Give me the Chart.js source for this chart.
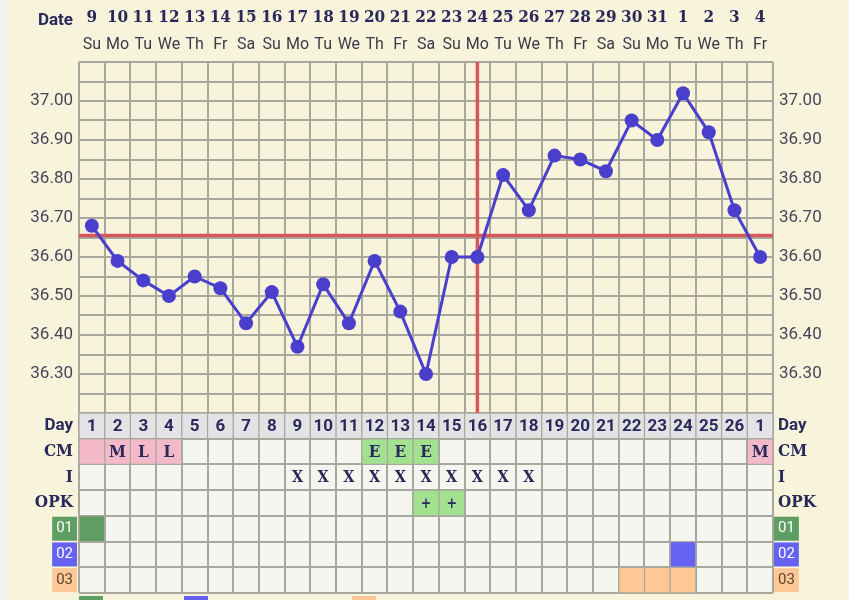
<!DOCTYPE html>
<html>
<head>
<meta charset="utf-8">
<script src="https://cdn.jsdelivr.net/npm/chart.js@4.4.0/dist/chart.umd.min.js"></script>
<style>
  html, body { margin: 0; padding: 0; background: #f8f4dc; }
  #wrap { width: 849px; height: 600px; position: relative; overflow: hidden; }
</style>
</head>
<body>
<div id="wrap"><canvas id="chart"></canvas></div>
<script>
// cycle data, one entry per column
const cycleDays = [1, 2, 3, 4, 5, 6, 7, 8, 9, 10, 11, 12, 13, 14, 15, 16, 17, 18, 19, 20, 21, 22, 23, 24, 25, 26, 1]
const dates = [9, 10, 11, 12, 13, 14, 15, 16, 17, 18, 19, 20, 21, 22, 23, 24, 25, 26, 27, 28, 29, 30, 31, 1, 2, 3, 4]
const weekdays = ['Su', 'Mo', 'Tu', 'We', 'Th', 'Fr', 'Sa', 'Su', 'Mo', 'Tu', 'We', 'Th', 'Fr', 'Sa',
  'Su', 'Mo', 'Tu', 'We', 'Th', 'Fr', 'Sa', 'Su', 'Mo', 'Tu', 'We', 'Th', 'Fr']
const temps = [36.68, 36.59, 36.54, 36.50, 36.55, 36.52, 36.43, 36.51, 36.37, 36.53, 36.43, 36.59, 36.46, 36.30,
  36.60, 36.60, 36.81, 36.72, 36.86, 36.85, 36.82, 36.95, 36.90, 37.02, 36.92, 36.72, 36.60]
const coverline = 36.655
const ovulationDay = 16

const rowNames = ['Day', 'CM', 'I', 'OPK', '01', '02', '03']
const cmCodes = ['', 'M', 'L', 'L', '', '', '', '', '', '', '', 'E', 'E', 'E', '', '', '', '', '', '', '', '', '', '', '', '', 'M']
const periodDays = [1, 2, 3, 4, 27]
const intercourseDays = [9, 10, 11, 12, 13, 14, 15, 16, 17, 18]
const opkPositiveDays = [14, 15]
const tag01Days = [1]
const tag02Days = [24]
const tag03Days = [22, 23, 24]

const ink = '#29295a'
const gridColor = '#a9a89e'
const cream = '#f8f4dc'
const red = '#d9565b'
const purple = '#4a3fcc'
const pink = '#f4b9c9'
const lightGreen = '#a2e18f'
const tagColors = ['#5f9e63', '#6561f2', '#fdc895']
const slab = '"DejaVu Serif Condensed", "DejaVu Serif", serif'

const cols = cycleDays.map((d, i) => i + 1)

const cellBars = (row, days, color) => ({
  type: 'bar',
  indexAxis: 'y',
  xAxisID: 'x',
  yAxisID: 'rows',
  data: days.map(d => ({ x: [d - 0.5, d + 0.5], y: row })),
  backgroundColor: color,
  borderColor: gridColor,
  borderWidth: 1,
  borderSkipped: false,
  grouped: false,
  barPercentage: 1,
  categoryPercentage: 1,
  order: 5
})

const cmGreenDays = cols.filter(d => cmCodes[d - 1] === 'E')

const pageBackground = {
  id: 'pageBackground',
  beforeDraw(chart) {
    const { ctx, scales: { x, rows } } = chart
    ctx.save()
    ctx.fillStyle = cream
    ctx.fillRect(0, 0, chart.width, chart.height)
    ctx.fillStyle = '#f1f1ee'
    ctx.fillRect(0, 0, 8, chart.height)
    ctx.fillStyle = '#f6f6f1'
    ctx.fillRect(x.left, rows.top, x.right - x.left, rows.bottom - rows.top)
    ctx.restore()
  }
}

const tableText = {
  id: 'tableText',
  afterDatasetsDraw(chart) {
    const { ctx, scales: { x, rows } } = chart
    ctx.save()
    ctx.textAlign = 'center'
    ctx.textBaseline = 'middle'
    ctx.fillStyle = ink
    cols.forEach((d, i) => {
      const px = x.getPixelForValue(d)
      ctx.font = 'bold 17px Roboto'
      ctx.fillText(cycleDays[i], px, rows.getPixelForValue(0) + 1)
      ctx.font = 'bold 17px ' + slab
      if (cmCodes[i]) ctx.fillText(cmCodes[i], px, rows.getPixelForValue(1) + 1)
      ctx.font = 'bold 16px ' + slab
      if (intercourseDays.includes(d)) ctx.fillText('X', px, rows.getPixelForValue(2) + 1)
      ctx.font = 'bold 14px ' + slab
      if (opkPositiveDays.includes(d)) ctx.fillText('+', px, rows.getPixelForValue(3) + 1)
    })
    ctx.restore()
  },
  afterDraw(chart) {
    const { ctx, scales: { x, rows } } = chart
    ctx.save()
    ctx.fillStyle = ink
    ctx.font = 'bold 17px Roboto'
    ctx.textAlign = 'right'
    ctx.textBaseline = 'middle'
    ctx.fillText('Date', 73, 21)
    // legend swatches, cut off by the bottom edge
    const sw = [[x.left, tagColors[0]], [184, tagColors[1]], [352, tagColors[2]]]
    sw.forEach(([lx, c]) => {
      ctx.fillStyle = c
      ctx.fillRect(lx, rows.bottom + 3, 24, 20)
    })
    ctx.restore()
  }
}

const noPad = s => {
  s.paddingTop = 0
  s.paddingBottom = 0
  s.paddingLeft = 0
  s.paddingRight = 0
}

const tempTicks = s => {
  s.ticks = []
  for (let i = 0; i <= 18; i++) s.ticks.push({ value: Math.round((36.2 + i * 0.05) * 100) / 100 })
}
const tempLabel = v => {
  const c = Math.round(v * 100)
  return (c % 10 === 0 && c !== 3620 && c !== 3710) ? v.toFixed(2) : ''
}

const rowTickFont = c => {
  if (c.index === 0) return { family: 'Roboto', weight: 'bold', size: 17 }
  if (c.index <= 3) return { family: slab, weight: 'bold', size: 17 }
  return { family: 'Roboto', size: 15 }
}
const rowTickColor = c => (c.index === 4 || c.index === 5) ? '#ffffff' : (c.index === 6 ? '#5a4330' : ink)
const rowBackdrop = c => c.index >= 4 ? tagColors[c.index - 4] : 'rgba(0,0,0,0)'

const topAxis = (labels, weight, height, padding, font, color) => ({
  type: 'linear',
  position: 'top',
  min: 0.5,
  max: 27.5,
  weight,
  afterBuildTicks: s => { s.ticks = cols.map(d => ({ value: d })) },
  afterFit: s => { s.height = height; noPad(s) },
  ticks: {
    autoSkip: false,
    maxRotation: 0,
    padding,
    color,
    font,
    callback: v => labels[Math.round(v) - 1]
  },
  grid: { display: false },
  border: { display: false }
})

const tempAxis = (position, weight, width) => ({
  type: 'linear',
  position,
  stack: position,
  stackWeight: 351,
  weight,
  min: 36.2,
  max: 37.1,
  afterBuildTicks: tempTicks,
  afterFit: s => { s.width = width; noPad(s) },
  ticks: { autoSkip: false, padding: 6, color: '#46465a', font: { family: 'Roboto', size: 17 }, callback: tempLabel },
  grid: position === 'left'
    ? { color: gridColor, lineWidth: 2, drawTicks: false }
    : { display: false, drawTicks: false },
  border: { display: false }
})

const rowAxis = (position, weight, width, padding) => ({
  type: 'category',
  labels: rowNames,
  position,
  stack: position,
  stackWeight: 180,
  weight,
  offset: true,
  afterFit: s => { s.width = width; noPad(s) },
  ticks: {
    autoSkip: false,
    padding,
    color: rowTickColor,
    font: rowTickFont,
    showLabelBackdrop: c => c.index >= 4,
    backdropColor: rowBackdrop,
    backdropPadding: { left: 4, right: 4, top: 3, bottom: 3 }
  },
  grid: position === 'left'
    ? { offset: true, color: gridColor, lineWidth: 2, drawTicks: false }
    : { display: false, drawTicks: false },
  border: { display: false }
})

new Chart(document.getElementById('chart'), {
  type: 'line',
  data: {
    datasets: [
      {
        type: 'line',
        data: cols.map((d, i) => ({ x: d, y: temps[i] })),
        borderColor: purple,
        backgroundColor: purple,
        borderWidth: 3,
        pointRadius: 7,
        pointBackgroundColor: purple,
        pointBorderWidth: 0,
        tension: 0,
        xAxisID: 'x',
        yAxisID: 'y',
        order: 1
      },
      {
        type: 'line',
        data: [{ x: 0.5, y: coverline }, { x: 27.5, y: coverline }],
        borderColor: red,
        borderWidth: 3.5,
        pointRadius: 0,
        xAxisID: 'x',
        yAxisID: 'y',
        order: 2
      },
      {
        type: 'line',
        data: [{ x: ovulationDay, y: 36.2 }, { x: ovulationDay, y: 37.1 }],
        borderColor: red,
        borderWidth: 3.5,
        pointRadius: 0,
        xAxisID: 'x',
        yAxisID: 'y',
        order: 3
      },
      cellBars('Day', cols, '#e3e3e6'),
      cellBars('CM', periodDays, pink),
      cellBars('CM', cmGreenDays, lightGreen),
      cellBars('OPK', opkPositiveDays, lightGreen),
      cellBars('01', tag01Days, tagColors[0]),
      cellBars('02', tag02Days, tagColors[1]),
      cellBars('03', tag03Days, tagColors[2])
    ]
  },
  options: {
    responsive: true,
    maintainAspectRatio: false,
    animation: false,
    devicePixelRatio: 1,
    layout: { padding: 0 },
    plugins: {
      legend: { display: false },
      tooltip: { enabled: false }
    },
    scales: {
      x: {
        type: 'linear',
        position: 'bottom',
        min: 0.5,
        max: 27.5,
        afterBuildTicks: s => { s.ticks = [0].concat(cols).map(d => ({ value: d + 0.5 })) },
        afterFit: s => { s.height = 7; noPad(s) },
        ticks: { display: false },
        grid: { color: gridColor, lineWidth: 2, drawTicks: false },
        border: { display: false }
      },
      xDate: topAxis(dates, 2, 33, -3, { family: slab, weight: 'bold', size: 17 }, ink),
      xWd: topAxis(weekdays, 1, 29, -1, { family: 'Roboto', size: 16 }, '#3a3a48'),
      y: tempAxis('left', 1, 79),
      rows: rowAxis('left', 0, 79, 6),
      yR: tempAxis('right', 0, 76),
      rowsR: rowAxis('right', 1, 76, 5)
    }
  },
  plugins: [pageBackground, tableText]
})
</script>
</body>
</html>
